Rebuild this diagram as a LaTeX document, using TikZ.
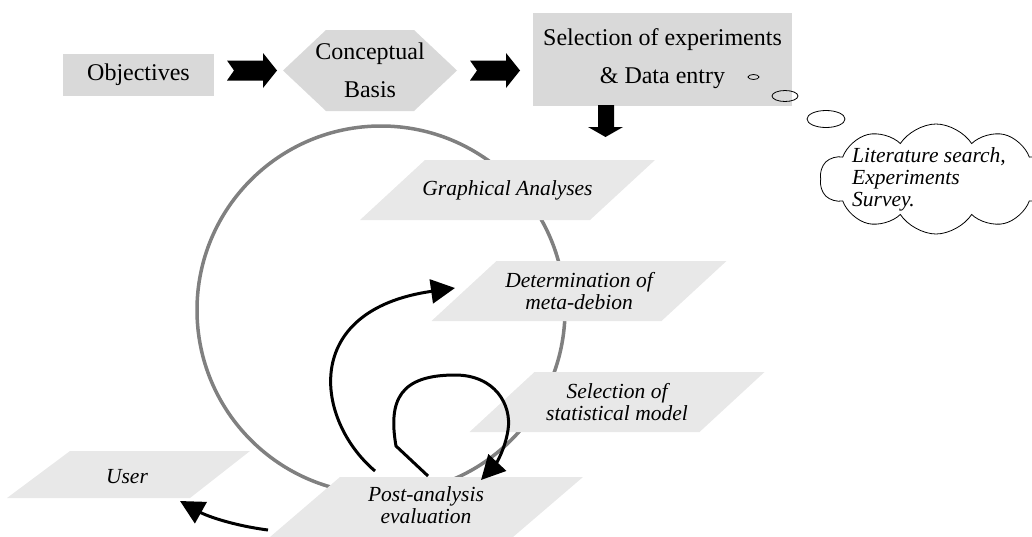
\documentclass[tikz,border=0pt]{standalone}
\usepackage{fontspec}
\setmainfont{Liberation Serif}
\usetikzlibrary{arrows.meta,shapes.symbols,backgrounds}

\begin{document}
\begin{tikzpicture}[x=1pt, y=-1pt,
  box/.style={fill=black!15, inner sep=0pt},
  lbl/.style={font=\fontsize{24}{38}\selectfont, align=center},
  slant/.style={font=\itshape\fontsize{21.5}{22}\selectfont, align=center, inner sep=0pt},
  paper/.style={fill=black!9},
  flow/.style={line width=3pt, -{Triangle[length=24pt, width=24pt]}},
  bubble/.style={draw, line width=0.8pt},
  blockarr/.pic={\fill (0,-10) -- (36,-10) -- (36,-17.5) -- (50,0) -- (36,17.5) -- (36,10) -- (0,10) -- (7,0) -- cycle;}]
\useasboundingbox (0,0) rectangle (1032,536);

% top row
\node[box, lbl, minimum width=151, minimum height=42] (obj) at (138.5,75) {Objectives};
\pic at (227,70.5) {blockarr};
\node[lbl] (cb) at (370,70) {Conceptual\\Basis};
\pic at (470,70.5) {blockarr};
\node[box, lbl, minimum width=259, minimum height=93] (sel) at (662.5,59) {Selection of experiments\\\& Data entry};
\fill (598,105) -- (614,105) -- (614,127) -- (623,127) -- (605.5,137) -- (588,127) -- (598,127) -- cycle;

% thought bubble
\draw[bubble] (753.5,77) ellipse [x radius=5.5, y radius=2.5];
\draw[bubble] (785,96) ellipse [x radius=13, y radius=5.5];
\draw[bubble] (826,119) ellipse [x radius=19, y radius=8.5];
\node[cloud, draw, line width=0.8pt, cloud puffs=10, cloud puff arc=115, aspect=2, minimum width=232, minimum height=110] (cl) at (936,179) {};
\node[slant, align=left] (lit) at (929,179) {Literature search,\\Experiments\\Survey.};

% cycle
\node[slant] (gr) at (507.5,190) {Graphical Analyses};
\node[slant] (dm) at (579,291) {Determination of\\meta-debion};
\node[slant] (sm) at (617,402) {Selection of\\statistical model};
\node[slant] (us) at (127,477) {User};
\node[slant] (pe) at (426,505) {Post-analysis\\evaluation};

\begin{scope}[on background layer]
  \draw[line width=3.5pt, black!50] (381,310) circle (184);
  \foreach \n in {gr,dm,sm}
    \fill[paper] ([shift={(-147.5,30)}]\n.center) -- ++(230,0) -- ++(65,-60) -- ++(-230,0) -- cycle;
  \fill[paper] (7,498) -- (190,498) -- (250,451) -- (70,451) -- cycle;
  \fill[paper] (270,537) -- (513,537) -- (583,477) -- (340,477) -- cycle;
  \fill[box] (283,70.5) -- (326,30) -- (414,30) -- (457,70.5) -- (414,111) -- (326,111) -- cycle;
\end{scope}

\coordinate (pa1) at (375,471);
\coordinate (pa2) at (428,476);
\coordinate (pa3) at (268,530);
\coordinate (dm in) at (455,288);
\coordinate (pe in) at (481,480);
\coordinate (us in) at (180,501);
\draw[flow] (pa1) .. controls (315,420) and (300,310) .. (dm in);
\draw[flow] (pa2) -- (396,446) .. controls (388,400) and (400,375) .. (455,375) .. controls (495,375) and (512,405) .. (508,430) .. controls (505,450) and (495,465) .. (pe in);
\draw[flow] (pa3) .. controls (230,525) and (205,515) .. (us in);

\end{tikzpicture}
\end{document}
